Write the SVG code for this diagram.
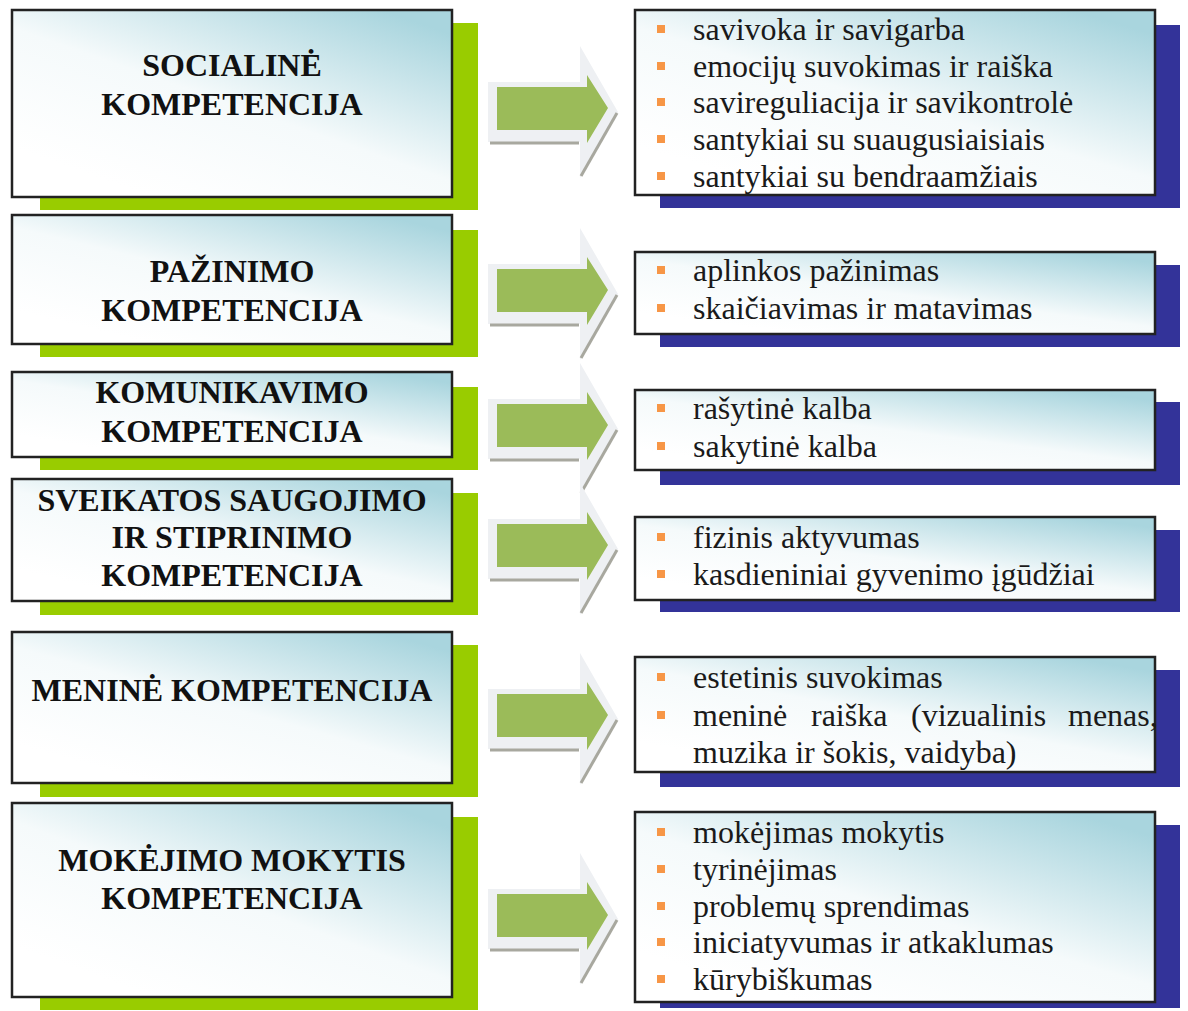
<svg xmlns="http://www.w3.org/2000/svg" width="1188" height="1011" viewBox="0 0 1188 1011">
<defs>
<linearGradient id="fillG" x1="0.2" y1="0.9" x2="0.9" y2="0.05">
<stop offset="0" stop-color="#ffffff"/>
<stop offset="0.45" stop-color="#f5fafb"/>
<stop offset="1" stop-color="#a9d5de"/>
</linearGradient>
<g id="arrow">
<polygon points="488,-26 580,-26 580,-62 618,4 580,70 580,34 488,34" fill="#eef0f3"/>
<line x1="490" y1="35" x2="579" y2="35" stroke="#a8a89f" stroke-width="3"/>
<line x1="617" y1="5" x2="581" y2="68" stroke="#a8a89f" stroke-width="3"/>
<polygon points="497,-21 587,-21 587,-33 608,0 587,35 587,22 497,22" fill="#9bbb59"/>
</g>
</defs>
<style>
.lbox{fill:url(#fillG);stroke:#222;stroke-width:2.5}
.green{fill:#99cc00}
.navy{fill:#333399}
.ltxt{font-family:"Liberation Serif","Times New Roman",serif;font-weight:bold;font-size:32px;fill:#111;text-anchor:middle}
.rtxt{font-family:"Liberation Serif","Times New Roman",serif;font-size:32px;fill:#1a1a1a}
.bul{fill:#f79646}
</style>
<rect width="1188" height="1011" fill="#ffffff"/>

<g id="left1">
<rect class="green" x="40" y="23" width="438" height="187"/>
<rect class="lbox" x="12" y="10" width="440" height="187"/>
<text class="ltxt" x="232" y="76">SOCIALINĖ</text>
<text class="ltxt" x="232" y="115">KOMPETENCIJA</text>
</g>
<g id="left2">
<rect class="green" x="40" y="230" width="438" height="127"/>
<rect class="lbox" x="12" y="215" width="440" height="129"/>
<text class="ltxt" x="232" y="282">PAŽINIMO</text>
<text class="ltxt" x="232" y="321">KOMPETENCIJA</text>
</g>
<g id="left3">
<rect class="green" x="40" y="387" width="438" height="83"/>
<rect class="lbox" x="12" y="372" width="440" height="85"/>
<text class="ltxt" x="232" y="403">KOMUNIKAVIMO</text>
<text class="ltxt" x="232" y="442">KOMPETENCIJA</text>
</g>
<g id="left4">
<rect class="green" x="40" y="493" width="438" height="122"/>
<rect class="lbox" x="12" y="479" width="440" height="122"/>
<text class="ltxt" x="232" y="511">SVEIKATOS SAUGOJIMO</text>
<text class="ltxt" x="232" y="548">IR STIPRINIMO</text>
<text class="ltxt" x="232" y="586">KOMPETENCIJA</text>
</g>
<g id="left5">
<rect class="green" x="40" y="645" width="438" height="152"/>
<rect class="lbox" x="12" y="632" width="440" height="151"/>
<text class="ltxt" x="232" y="701">MENINĖ KOMPETENCIJA</text>
</g>
<g id="left6">
<rect class="green" x="40" y="817" width="438" height="193"/>
<rect class="lbox" x="12" y="803" width="440" height="194"/>
<text class="ltxt" x="232" y="871">MOKĖJIMO MOKYTIS</text>
<text class="ltxt" x="232" y="909">KOMPETENCIJA</text>
</g>

<g id="connectors">
<use href="#arrow" transform="translate(0,108)"/>
<use href="#arrow" transform="translate(0,290)"/>
<use href="#arrow" transform="translate(0,425)"/>
<use href="#arrow" transform="translate(0,545)"/>
<use href="#arrow" transform="translate(0,715)"/>
<use href="#arrow" transform="translate(0,915)"/>
</g>

<g id="right1">
<rect class="navy" x="660" y="25" width="520" height="183"/>
<rect class="lbox" x="635" y="10" width="520" height="185"/>
<rect class="bul" x="657" y="25" width="8" height="8"/>
<rect class="bul" x="657" y="62" width="8" height="8"/>
<rect class="bul" x="657" y="98" width="8" height="8"/>
<rect class="bul" x="657" y="135" width="8" height="8"/>
<rect class="bul" x="657" y="172" width="8" height="8"/>
<text class="rtxt" x="693" y="40">savivoka ir savigarba</text>
<text class="rtxt" x="693" y="77">emocijų suvokimas ir raiška</text>
<text class="rtxt" x="693" y="113">savireguliacija ir savikontrolė</text>
<text class="rtxt" x="693" y="150">santykiai su suaugusiaisiais</text>
<text class="rtxt" x="693" y="187">santykiai su bendraamžiais</text>
</g>
<g id="right2">
<rect class="navy" x="660" y="265" width="520" height="82"/>
<rect class="lbox" x="635" y="252" width="520" height="82"/>
<rect class="bul" x="657" y="266" width="8" height="8"/>
<rect class="bul" x="657" y="304" width="8" height="8"/>
<text class="rtxt" x="693" y="281">aplinkos pažinimas</text>
<text class="rtxt" x="693" y="319">skaičiavimas ir matavimas</text>
</g>
<g id="right3">
<rect class="navy" x="660" y="402" width="520" height="83"/>
<rect class="lbox" x="635" y="390" width="520" height="80"/>
<rect class="bul" x="657" y="404" width="8" height="8"/>
<rect class="bul" x="657" y="442" width="8" height="8"/>
<text class="rtxt" x="693" y="419">rašytinė kalba</text>
<text class="rtxt" x="693" y="457">sakytinė kalba</text>
</g>
<g id="right4">
<rect class="navy" x="660" y="530" width="520" height="82"/>
<rect class="lbox" x="635" y="517" width="520" height="83"/>
<rect class="bul" x="657" y="533" width="8" height="8"/>
<rect class="bul" x="657" y="570" width="8" height="8"/>
<text class="rtxt" x="693" y="548">fizinis aktyvumas</text>
<text class="rtxt" x="693" y="585">kasdieniniai gyvenimo įgūdžiai</text>
</g>
<g id="right5">
<rect class="navy" x="660" y="670" width="520" height="117"/>
<rect class="lbox" x="635" y="657" width="520" height="115"/>
<rect class="bul" x="657" y="673" width="8" height="8"/>
<rect class="bul" x="657" y="711" width="8" height="8"/>
<text class="rtxt" x="693" y="688">estetinis suvokimas</text>
<text class="rtxt" y="726"><tspan x="693">meninė</tspan><tspan x="811">raiška</tspan><tspan x="911">(vizualinis</tspan><tspan x="1068">menas,</tspan></text>
<text class="rtxt" x="693" y="763">muzika ir šokis, vaidyba)</text>
</g>
<g id="right6">
<rect class="navy" x="660" y="825" width="520" height="183"/>
<rect class="lbox" x="635" y="812" width="520" height="190"/>
<rect class="bul" x="657" y="828" width="8" height="8"/>
<rect class="bul" x="657" y="865" width="8" height="8"/>
<rect class="bul" x="657" y="902" width="8" height="8"/>
<rect class="bul" x="657" y="938" width="8" height="8"/>
<rect class="bul" x="657" y="975" width="8" height="8"/>
<text class="rtxt" x="693" y="843">mokėjimas mokytis</text>
<text class="rtxt" x="693" y="880">tyrinėjimas</text>
<text class="rtxt" x="693" y="917">problemų sprendimas</text>
<text class="rtxt" x="693" y="953">iniciatyvumas ir atkaklumas</text>
<text class="rtxt" x="693" y="990">kūrybiškumas</text>
</g>
</svg>
